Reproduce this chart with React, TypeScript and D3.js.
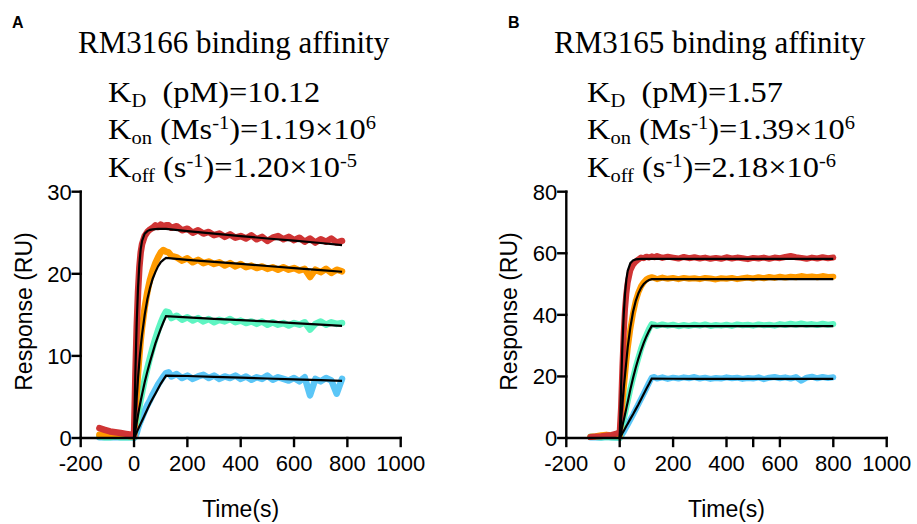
import React from 'react';
import * as d3 from 'd3';

const W = 917;
const H = 524;

const SERIF = "'Liberation Serif', 'Times New Roman', serif";
const SANS = "'Liberation Sans', Arial, sans-serif";

const seriesColors = ['#5bc6f7', '#5ef5c2', '#ff9a00', '#cf3434']; // blue, green, orange, red

// ---- panel A (RM3166) ----
const timeA = [-130, -110, -90, -70, -50, -30, -10, 0, 5, 10, 15, 20, 25, 30, 40, 50, 60, 70, 80, 90, 100, 110, 120, 130, 140, 160, 180, 200, 220, 240, 260, 280, 300, 320, 340, 360, 380, 400, 420, 440, 460, 480, 500, 520, 540, 560, 580, 600, 620, 640, 660, 680, 700, 720, 740, 760, 780];
const redA = [1.2, 1.0, 0.8, 0.7, 0.6, 0.5, 0.4, 0.3, 7.5, 13.5, 17.8, 20.8, 22.6, 23.6, 24.6, 25.1, 25.4, 25.6, 25.9, 25.7, 26.0, 25.8, 25.9, 25.9, 25.6, 25.8, 25.3, 25.5, 25.0, 25.3, 24.9, 25.1, 24.7, 24.9, 24.5, 24.8, 24.4, 24.6, 24.3, 24.7, 24.2, 24.5, 24.0, 24.4, 24.6, 24.2, 24.5, 24.1, 24.4, 23.9, 24.3, 23.8, 24.2, 23.9, 24.3, 23.8, 24.0];
const orangeA = [0.4, 0.3, 0.3, 0.5, 0.4, 0.3, 0.2, 0.2, 2.6, 5.4, 7.9, 10.0, 11.9, 13.4, 15.9, 17.8, 19.3, 20.4, 21.3, 22.0, 22.6, 22.9, 22.7, 22.6, 22.2, 22.0, 21.6, 21.9, 21.4, 21.7, 21.3, 21.5, 21.2, 21.4, 21.0, 21.3, 20.9, 21.2, 20.8, 21.0, 20.7, 20.9, 20.6, 20.8, 20.5, 20.8, 20.5, 20.7, 20.4, 20.6, 19.6, 20.5, 20.2, 20.6, 20.1, 20.5, 20.3];
const greenA = [0.2, 0.1, 0.1, 0.2, 0.1, 0.1, 0.1, 0.1, 1.0, 2.0, 2.9, 3.8, 4.7, 5.5, 7.1, 8.5, 9.8, 11.0, 12.1, 13.1, 14.0, 14.8, 15.4, 15.3, 14.6, 14.9, 14.4, 14.7, 14.3, 14.6, 14.2, 14.5, 14.1, 14.4, 14.2, 14.5, 14.1, 14.3, 14.0, 14.2, 13.9, 14.2, 13.8, 14.1, 13.8, 14.0, 13.7, 14.0, 13.8, 14.1, 13.2, 13.9, 14.2, 13.8, 14.1, 13.9, 14.0];
const blueA = [0.1, 0.1, 0.1, 0.1, 0.1, 0.1, 0.1, 0.0, 0.2, 0.6, 1.2, 1.7, 2.1, 2.5, 3.3, 4.0, 4.6, 5.3, 5.9, 6.5, 7.0, 7.5, 7.9, 8.0, 7.5, 7.8, 7.3, 7.6, 7.2, 7.5, 7.7, 7.3, 7.6, 7.2, 7.5, 7.3, 7.6, 7.2, 7.5, 7.1, 7.4, 7.2, 7.6, 7.1, 7.4, 7.2, 7.0, 7.3, 6.9, 7.4, 5.2, 7.2, 6.9, 7.3, 7.0, 5.4, 7.2];

const fitTimeA = [0, 5, 10, 15, 20, 25, 30, 40, 50, 60, 70, 80, 90, 100, 110, 120, 200, 300, 400, 500, 600, 700, 780];
const fitRedA = [0, 8.0, 14.0, 18.3, 21.2, 23.0, 24.0, 24.9, 25.2, 25.35, 25.42, 25.45, 25.47, 25.48, 25.48, 25.48, 25.2, 24.9, 24.6, 24.3, 24.05, 23.75, 23.5];
const fitOrangeA = [0, 2.6, 5.0, 7.3, 9.3, 11.1, 12.6, 15.0, 16.9, 18.3, 19.4, 20.2, 20.9, 21.4, 21.7, 21.95, 21.7, 21.45, 21.2, 20.95, 20.7, 20.45, 20.25];
const fitGreenA = [0, 0.95, 1.9, 2.8, 3.7, 4.5, 5.3, 6.8, 8.1, 9.3, 10.4, 11.5, 12.4, 13.3, 14.1, 14.85, 14.7, 14.5, 14.35, 14.2, 14.0, 13.8, 13.65];
const fitBlueA = [0, 0.35, 0.7, 1.05, 1.4, 1.75, 2.1, 2.8, 3.5, 4.2, 4.8, 5.4, 6.0, 6.6, 7.1, 7.6, 7.55, 7.45, 7.35, 7.25, 7.15, 7.05, 6.95];

// ---- panel B (RM3165) ----
const timeB = [-110, -90, -70, -50, -30, -10, 0, 5, 10, 15, 20, 25, 30, 40, 50, 60, 70, 80, 90, 100, 110, 120, 130, 140, 160, 180, 200, 220, 240, 260, 280, 300, 320, 340, 360, 380, 400, 420, 440, 460, 480, 500, 520, 540, 560, 580, 600, 620, 640, 660, 680, 700, 720, 740, 760, 780, 800];
const redB = [0.3, 0.5, 0.6, 0.8, 1.0, 1.5, 2.0, 10.0, 23.0, 34.0, 42.0, 47.0, 50.5, 54.5, 56.3, 57.3, 58.0, 58.6, 58.4, 58.9, 58.6, 59.0, 58.7, 59.1, 58.5, 58.9, 58.6, 58.3, 58.8, 58.4, 58.7, 58.3, 58.6, 58.2, 58.5, 58.2, 58.7, 58.3, 58.6, 58.4, 58.1, 58.5, 58.3, 58.6, 58.2, 58.6, 58.4, 58.8, 59.1, 58.7, 58.5, 58.2, 58.6, 58.3, 58.7, 58.4, 58.6];
const orangeB = [0.4, 0.6, 0.9, 1.1, 0.9, 0.8, 0.5, 5.5, 11.0, 16.0, 20.5, 25.0, 29.0, 35.5, 40.5, 44.5, 47.3, 49.3, 50.6, 51.5, 52.0, 52.2, 52.0, 51.6, 52.1, 51.7, 52.0, 51.6, 52.0, 51.7, 51.9, 51.6, 52.0, 51.8, 51.5, 51.9, 51.7, 52.0, 51.6, 51.9, 52.1, 51.8, 52.2, 51.9, 52.3, 52.0, 52.4, 52.1, 52.4, 52.2, 52.6, 52.3, 52.5, 52.2, 52.6, 52.3, 52.4];
const greenB = [0.5, 0.3, 0.2, 0.3, 0.2, 0.2, 0.0, 2.0, 4.0, 6.0, 8.0, 10.0, 12.0, 16.0, 19.5, 23.0, 26.0, 29.0, 31.5, 33.5, 35.5, 37.0, 36.8, 36.4, 36.9, 36.5, 36.8, 36.3, 36.7, 36.4, 36.8, 36.5, 36.9, 36.4, 36.7, 36.5, 36.8, 36.4, 36.9, 36.6, 36.8, 36.5, 36.9, 36.6, 36.8, 36.5, 37.0, 36.7, 37.1, 36.8, 37.2, 36.8, 37.0, 36.7, 37.1, 36.8, 37.0];
const blueB = [0.2, 0.2, 0.1, 0.3, 0.2, 0.1, 0.0, 0.6, 1.3, 2.0, 2.8, 3.6, 4.4, 6.0, 7.6, 9.3, 11.0, 12.7, 14.4, 16.2, 18.0, 19.6, 19.8, 19.3, 19.7, 19.2, 19.6, 19.3, 19.7, 19.4, 19.8, 19.3, 19.6, 19.2, 19.5, 19.3, 19.7, 19.4, 19.6, 19.2, 19.5, 19.3, 19.7, 19.1, 19.6, 19.8, 19.4, 19.7, 19.3, 19.8, 18.6, 19.6, 19.9, 19.4, 19.8, 19.5, 19.7];

const fitTimeB = [0, 5, 10, 15, 20, 25, 30, 40, 50, 60, 70, 80, 90, 100, 110, 120, 200, 300, 400, 500, 600, 700, 800];
const fitRedB = [0, 16.0, 30.0, 40.0, 47.0, 51.5, 54.3, 56.8, 57.7, 58.0, 58.1, 58.15, 58.2, 58.2, 58.2, 58.2, 58.2, 58.2, 58.2, 58.2, 58.2, 58.2, 58.2];
const fitOrangeB = [0, 5.8, 11.0, 16.0, 20.5, 25.0, 29.5, 36.0, 41.0, 44.5, 47.0, 48.8, 50.0, 50.8, 51.3, 51.6, 51.6, 51.6, 51.6, 51.6, 51.6, 51.6, 51.6];
const fitGreenB = [0, 1.95, 3.9, 5.8, 7.7, 9.7, 11.7, 15.8, 19.5, 22.8, 25.8, 28.5, 30.9, 33.0, 34.8, 36.4, 36.35, 36.35, 36.35, 36.35, 36.35, 36.35, 36.35];
const fitBlueB = [0, 0.75, 1.55, 2.3, 3.1, 3.9, 4.65, 6.2, 7.7, 9.3, 10.9, 12.6, 14.3, 16.0, 17.6, 19.3, 19.25, 19.2, 19.2, 19.2, 19.2, 19.2, 19.2];

const xTicksA = [-200, 0, 200, 400, 600, 800, 1000];
const xTicksB = [-200, 0, 200, 400, 500, 600, 800, 1000];
const xLabels = [-200, 0, 200, 400, 600, 800, 1000];
const yTicksA = [0, 10, 20, 30];
const yTicksB = [0, 20, 40, 60, 80];

type PanelProps = {
  letter: string;
  letterX: number;
  title: string;
  titleX: number;
  textX: number;
  kd: string;
  kon: string;
  konExp: string;
  koff: string;
  koffExp: string;
  xRange: [number, number];
  yMax: number;
  xTicks: number[];
  yTicks: number[];
  time: number[];
  series: number[][];
  bandWidth: number;
  fitTime: number[];
  fits: number[][];
};

const Panel = (p: PanelProps) => {
  const x = d3.scaleLinear().domain([-200, 1000]).range(p.xRange);
  const y = d3.scaleLinear().domain([0, p.yMax]).range([438, 191.7]);
  const dataLine = (vals: number[]) =>
    d3.line<number>().x((_, i) => x(p.time[i])).y(d => y(d))(vals) || '';
  const fitLine = (vals: number[]) =>
    d3.line<number>().x((_, i) => x(p.fitTime[i])).y(d => y(d))(vals) || '';
  const x0 = p.xRange[0];
  const midX = (p.xRange[0] + p.xRange[1]) / 2;

  return (
    <g>
      <text x={p.letterX} y={28} fontFamily={SANS} fontWeight="bold" fontSize={16}>{p.letter}</text>
      <text x={p.titleX} y={53} fontFamily={SERIF} fontSize={31}>{p.title}</text>
      {/* kinetic constants, slightly wide like the source figure */}
      <g fontFamily={SERIF} fontSize={30} transform={`translate(${p.textX},0) scale(1.08,1)`}>
        <text x={0} y={102}>
          K<tspan fontSize={19} dy={5}>D</tspan><tspan dy={-5} dx={15}>{'(pM)='}{p.kd}</tspan>
        </text>
        <text x={0} y={139.5}>
          K<tspan fontSize={19} dy={5}>on</tspan><tspan dy={-5}>{' (Ms'}</tspan>
          <tspan fontSize={19} dy={-10}>-1</tspan><tspan dy={10}>{')='}{p.kon}{'×10'}</tspan>
          <tspan fontSize={19} dy={-10}>{p.konExp}</tspan>
        </text>
        <text x={0} y={177}>
          K<tspan fontSize={19} dy={5}>off</tspan><tspan dy={-5}>{' (s'}</tspan>
          <tspan fontSize={19} dy={-10}>-1</tspan><tspan dy={10}>{')='}{p.koff}{'×10'}</tspan>
          <tspan fontSize={19} dy={-10}>{p.koffExp}</tspan>
        </text>
      </g>

      {p.series.map((vals, i) => (
        <path key={'d' + i} d={dataLine(vals)} fill="none" stroke={seriesColors[i]}
          strokeWidth={p.bandWidth} strokeLinejoin="round" strokeLinecap="round" />
      ))}
      {p.fits.map((vals, i) => (
        <path key={'f' + i} d={fitLine(vals)} fill="none" stroke="#000" strokeWidth={2.2} />
      ))}

      {/* axes */}
      <g stroke="#000" strokeWidth={2.4} strokeLinecap="square">
        <line x1={x0} y1={y(0)} x2={p.xRange[1]} y2={y(0)} />
        <line x1={x0} y1={y(0)} x2={x0} y2={y(p.yMax)} />
        {p.xTicks.map(t => (
          <line key={'xt' + t} x1={x(t)} x2={x(t)} y1={y(0)} y2={y(0) + 8} />
        ))}
        {p.yTicks.map(t => (
          <line key={'yt' + t} x1={x0 - 8} x2={x0} y1={y(t)} y2={y(t)} />
        ))}
      </g>
      <g fontFamily={SANS} fontSize={22} fill="#000">
        {xLabels.map(t => (
          <text key={'xl' + t} x={x(t)} y={471} textAnchor="middle">{t}</text>
        ))}
        {p.yTicks.map(t => (
          <text key={'yl' + t} x={x0 - 9} y={y(t) + 8} textAnchor="end">{t}</text>
        ))}
      </g>
      <text x={midX} y={517} textAnchor="middle" fontFamily={SANS} fontSize={23}>Time(s)</text>
      <text transform={`translate(${x0 - 49},${311.5}) rotate(-90)`} textAnchor="middle"
        fontFamily={SANS} fontSize={23}>Response (RU)</text>
    </g>
  );
};

const App = () => {
  return (
    <svg width={W} height={H} style={{ position: 'absolute', left: 0, top: 0, background: '#fff' }}>
      <rect width={W} height={H} fill="#fff" />
      <Panel letter="A" letterX={12} title="RM3166 binding affinity" titleX={78} textX={108}
        kd="10.12" kon="1.19" konExp="6" koff="1.20" koffExp="-5"
        xRange={[80.7, 400.7]} yMax={30} xTicks={xTicksA} yTicks={yTicksA}
        time={timeA} series={[blueA, greenA, orangeA, redA]} bandWidth={6.5}
        fitTime={fitTimeA} fits={[fitBlueA, fitGreenA, fitOrangeA, fitRedA]} />
      <Panel letter="B" letterX={508} title="RM3165 binding affinity" titleX={554} textX={587}
        kd="1.57" kon="1.39" konExp="6" koff="2.18" koffExp="-6"
        xRange={[566.3, 886.7]} yMax={80} xTicks={xTicksB} yTicks={yTicksB}
        time={timeB} series={[blueB, greenB, orangeB, redB]} bandWidth={6}
        fitTime={fitTimeB} fits={[fitBlueB, fitGreenB, fitOrangeB, fitRedB]} />
    </svg>
  );
};

export default App;
